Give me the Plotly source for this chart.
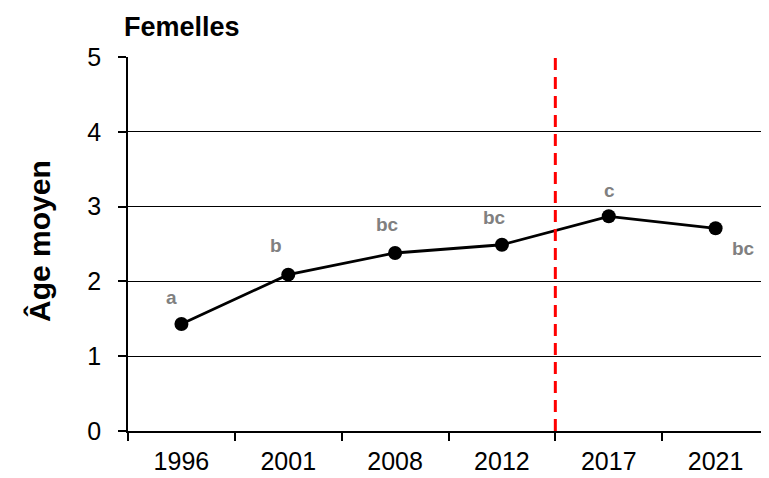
import plotly.graph_objects as go

years = ["1996", "2001", "2008", "2012", "2017", "2021"]
age_moyen = [1.43, 2.09, 2.38, 2.49, 2.87, 2.71]
letters = ["a", "b", "bc", "bc", "c", "bc"]
letter_dx = [-10, -12, -8, -7, 1, 28]
letter_dy = [27, 29, 28, 27, 26, -20]
y_ticks = [0, 1, 2, 3, 4, 5]
break_pos = 3.5  # between 2012 and 2017

OFF = 8  # page body margin
W, H = 769 - OFF, 478 - OFF
ML, MR, MT, MB = 128 - OFF, 0, 57 - OFF, 47

fig = go.Figure()
fig.add_trace(go.Scatter(
    x=years, y=age_moyen, mode="lines+markers",
    line=dict(color="black", width=2.8),
    marker=dict(color="black", size=14),
    showlegend=False, cliponaxis=False,
))

fig.add_shape(type="line", xref="x", yref="y", x0=break_pos, x1=break_pos, y0=0, y1=5,
              line=dict(color="#ff0000", width=3, dash="12px,7px"))

for i, (v, t, dx, dy) in enumerate(zip(age_moyen, letters, letter_dx, letter_dy)):
    fig.add_annotation(x=i, y=v, xref="x", yref="y", text="<b>%s</b>" % t, showarrow=False,
                       xshift=dx, yshift=dy,
                       font=dict(family="Liberation Sans, Arial", size=19, color="#808080"))

PW, PH = W - ML - MR, H - MT - MB
fig.add_annotation(text="<b>Femelles</b>", xref="paper", yref="paper",
                   x=(122 - 128) / PW, y=(431 - 27) / PH,
                   xanchor="left", yanchor="middle", showarrow=False,
                   font=dict(family="Liberation Sans, Arial", size=27, color="black"))
fig.add_annotation(text="<b>Âge moyen</b>", xref="paper", yref="paper",
                   x=(39 - 128) / PW, y=(431 - 241) / PH,
                   xanchor="center", yanchor="middle", textangle=-90, showarrow=False,
                   font=dict(family="Liberation Sans, Arial", size=30, color="black"))

fig.update_layout(
    width=W, height=H, margin=dict(l=ML, r=MR, t=MT, b=MB),
    paper_bgcolor="white", plot_bgcolor="white",
    font=dict(family="Liberation Sans, Arial", color="black"),
    xaxis=dict(type="category", categoryorder="array", categoryarray=years,
               range=[-0.5, 5.5], tickson="boundaries", ticks="outside", ticklen=8,
               tickwidth=1.5, tickcolor="black", showline=True, linecolor="black",
               linewidth=1.5, showgrid=False, tickfont=dict(size=25),
               ticklabelstandoff=7, zeroline=False),
    yaxis=dict(range=[0, 5], tickvals=y_ticks, ticks="outside", ticklen=8, tickwidth=1.5,
               tickcolor="black", showline=True, linecolor="black", linewidth=1.5,
               showgrid=True, gridcolor="black", gridwidth=1, zeroline=False,
               tickfont=dict(size=25), ticklabelstandoff=12),
)

fig.write_html("out.html")
